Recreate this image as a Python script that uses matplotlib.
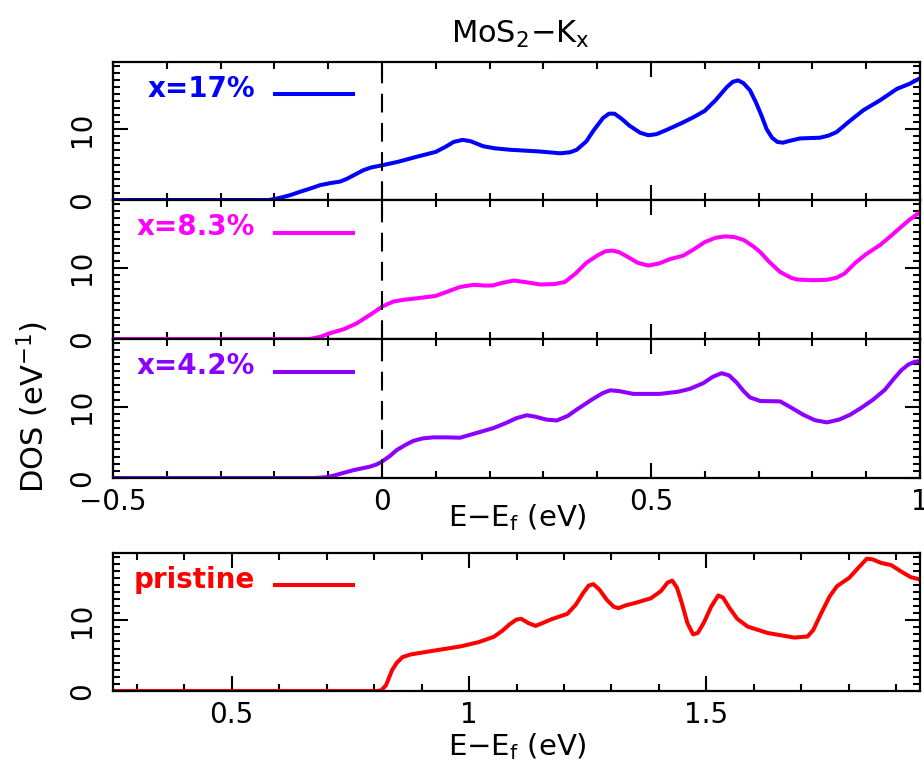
import matplotlib
matplotlib.use("Agg")
import matplotlib.pyplot as plt
from matplotlib.ticker import MultipleLocator

# DOS curves (E - Ef in eV, DOS in 1/eV)
x17 = [-0.5, -0.21, -0.19, -0.17, -0.152, -0.13, -0.115, -0.095, -0.078, -0.065, -0.05, -0.035,
       -0.02, 0.0, 0.03, 0.064, 0.10, 0.12, 0.133, 0.15, 0.165, 0.188, 0.21, 0.238,
       0.294, 0.331, 0.35, 0.362, 0.38, 0.393, 0.411, 0.422, 0.432, 0.445, 0.46, 0.48,
       0.495, 0.51, 0.529, 0.555, 0.579, 0.60, 0.62, 0.641, 0.652, 0.662, 0.672, 0.684,
       0.695, 0.705, 0.715, 0.725, 0.735, 0.745, 0.76, 0.777, 0.814, 0.83, 0.845, 0.87,
       0.895, 0.926, 0.957, 0.98, 1.0]
y17 = [0, 0, 0.3, 0.7, 1.17, 1.7, 2.1, 2.4, 2.6, 3.0, 3.6, 4.2,
       4.6, 4.9, 5.4, 6.1, 6.8, 7.6, 8.2, 8.5, 8.3, 7.6, 7.3, 7.1,
       6.85, 6.6, 6.75, 7.1, 8.3, 9.8, 11.6, 12.2, 12.2, 11.5, 10.5, 9.5,
       9.15, 9.3, 9.9, 10.8, 11.7, 12.6, 14.1, 15.96, 16.7, 16.9, 16.5, 15.5,
       13.8, 12.0, 10.0, 8.8, 8.2, 8.1, 8.4, 8.7, 8.8, 9.1, 9.6, 11.2,
       12.7, 14.1, 15.7, 16.4, 17.2]

x83 = [-0.5, -0.135, -0.115, -0.097, -0.07, -0.047, -0.022, -0.01, 0.0, 0.021, 0.04, 0.064,
       0.10, 0.12, 0.145, 0.17, 0.19, 0.205, 0.225, 0.245, 0.265, 0.294, 0.32, 0.34,
       0.36, 0.38, 0.40, 0.415, 0.428, 0.44, 0.455, 0.475, 0.495, 0.515, 0.535, 0.56,
       0.58, 0.60, 0.62, 0.638, 0.655, 0.672, 0.69, 0.703, 0.72, 0.74, 0.76, 0.771,
       0.80, 0.827, 0.845, 0.86, 0.88, 0.898, 0.926, 0.945, 0.963, 0.98, 1.0]
y83 = [0, 0, 0.3, 0.8, 1.4, 2.2, 3.4, 4.0, 4.55, 5.25, 5.5, 5.7,
       6.05, 6.6, 7.3, 7.6, 7.5, 7.5, 7.9, 8.2, 8.0, 7.65, 7.7, 8.0,
       9.2, 10.7, 11.7, 12.3, 12.4, 12.2, 11.6, 10.7, 10.3, 10.6, 11.2, 11.7,
       12.6, 13.6, 14.2, 14.4, 14.3, 13.9, 13.0, 12.2, 10.8, 9.4, 8.6, 8.35,
       8.25, 8.3, 8.6, 9.2, 10.7, 11.8, 13.2, 14.4, 15.6, 16.7, 17.8]

x42 = [-0.5, -0.125, -0.105, -0.09, -0.07, -0.053, -0.022, -0.01, 0.0, 0.015, 0.027, 0.045,
       0.058, 0.075, 0.095, 0.12, 0.145, 0.175, 0.207, 0.23, 0.25, 0.269, 0.285, 0.305,
       0.325, 0.345, 0.362, 0.39, 0.41, 0.424, 0.44, 0.467, 0.517, 0.55, 0.572, 0.597,
       0.615, 0.631, 0.645, 0.659, 0.672, 0.684, 0.703, 0.740, 0.76, 0.783, 0.805, 0.827,
       0.85, 0.870, 0.89, 0.913, 0.935, 0.950, 0.965, 0.978, 0.99, 1.0]
y42 = [0, 0, 0.1, 0.33, 0.75, 1.1, 1.6, 1.9, 2.3, 3.1, 3.9, 4.7,
       5.2, 5.55, 5.7, 5.7, 5.65, 6.3, 7.0, 7.7, 8.4, 8.8, 8.6, 8.2,
       8.07, 8.7, 9.6, 11.0, 11.9, 12.3, 12.2, 11.8, 11.8, 12.1, 12.5, 13.3,
       14.2, 14.7, 14.4, 13.4, 12.2, 11.3, 10.8, 10.75, 9.9, 8.87, 8.1, 7.8,
       8.2, 8.87, 9.8, 11.0, 12.4, 13.8, 15.1, 15.9, 16.3, 16.4]

x_pr = [0.25, 0.805, 0.815, 0.825, 0.838, 0.848, 0.860, 0.877, 0.926, 0.982, 1.02, 1.052,
        1.07, 1.085, 1.10, 1.11, 1.125, 1.14, 1.155, 1.172, 1.207, 1.225, 1.24, 1.252,
        1.262, 1.275, 1.29, 1.305, 1.315, 1.33, 1.348, 1.383, 1.404, 1.418, 1.428, 1.438,
        1.448, 1.46, 1.472, 1.482, 1.495, 1.51, 1.525, 1.535, 1.548, 1.565, 1.587, 1.629,
        1.685, 1.713, 1.725, 1.742, 1.76, 1.775, 1.801, 1.82, 1.838, 1.85, 1.868, 1.889,
        1.91, 1.93, 1.953]
y_pr = [0, 0, 0.1, 0.8, 2.96, 4.0, 4.8, 5.16, 5.7, 6.3, 6.9, 7.65,
        8.5, 9.4, 10.1, 10.2, 9.6, 9.2, 9.6, 10.1, 10.9, 12.2, 13.8, 14.9,
        15.1, 14.3, 12.9, 11.9, 11.7, 12.1, 12.4, 13.1, 14.1, 15.3, 15.6, 14.6,
        12.5, 9.6, 8.0, 8.2, 9.7, 11.9, 13.5, 13.2, 11.8, 10.2, 9.1, 8.2,
        7.55, 7.7, 8.6, 11.0, 13.4, 14.8, 16.0, 17.4, 18.7, 18.6, 18.1, 17.8,
        16.9, 16.1, 15.7]

labels = ["x=17%", "x=8.3%", "x=4.2%", "pristine"]
colors = ["#0000ff", "#ff00ff", "#8c00ff", "#ff0000"]

plt.rcParams['font.family'] = ['DejaVu Sans']
plt.rcParams['font.size'] = 20
plt.rcParams['mathtext.fontset'] = 'dejavusans'

fig = plt.figure(figsize=(9.24, 7.67), dpi=100)

L, W = 113 / 924, 807 / 924
def px_axes(top, bottom):
    return fig.add_axes([L, 1 - bottom / 767, W, (bottom - top) / 767])

ax1 = px_axes(62, 200)
ax2 = px_axes(200, 339)
ax3 = px_axes(339, 478)
ax4 = px_axes(553, 691)

series = [(ax1, x17, y17), (ax2, x83, y83), (ax3, x42, y42), (ax4, x_pr, y_pr)]

for i, (ax, xs, ys) in enumerate(series):
    ax.plot(xs, ys, color=colors[i], lw=2.9, solid_joinstyle='round')
    ax.set_ylim(0, 19.5)
    ax.set_yticks([0, 10])
    ax.yaxis.set_minor_locator(MultipleLocator(1))
    if ax is ax4:
        ax.set_xlim(0.25, 1.95)
        ax.set_xticks([0.5, 1, 1.5])
        ax.set_xticklabels(["0.5", "1", "1.5"])
    else:
        ax.set_xlim(-0.5, 1.0)
        ax.set_xticks([-0.5, 0, 0.5, 1])
        ax.set_xticklabels(["\u22120.5", "0", "0.5", "1"])
        ax.axvline(0, color='k', lw=1.5, ls=(0, (9, 5)))
    ax.xaxis.set_minor_locator(MultipleLocator(0.1))
    ax.tick_params(which='both', direction='in', top=True, right=True, width=1.5, color='k',
                   labelsize=20)
    ax.tick_params(which='major', length=11)
    ax.tick_params(which='minor', length=5)
    ax.tick_params(axis='x', pad=7)
    ax.tick_params(axis='y', labelrotation=90, pad=12)
    for lab in ax.get_yticklabels():
        lab.set_va('center')
    for s in ax.spines.values():
        s.set_linewidth(1.6)
    if ax in (ax1, ax2):
        ax.tick_params(axis='x', labelbottom=False)

    # legend-like label and sample line
    ax.text(0.176, 0.745, labels[i], color=colors[i], fontweight='bold', fontsize=20,
            ha='right', va='baseline', transform=ax.transAxes)
    ax.plot([0.2007, 0.2974], [0.765, 0.765], color=colors[i], lw=2.9,
            transform=ax.transAxes)

fig.text(520 / 924, 1 - 43 / 767, "MoS$_2$\u2212K$_\\mathrm{x}$", ha='center', va='baseline', fontsize=22)
fig.text(517 / 924, 1 - 526 / 767, "E\u2212E$_\\mathrm{f}$ (eV)", ha='center', va='baseline', fontsize=21)
fig.text(517 / 924, 1 - 755 / 767, "E\u2212E$_\\mathrm{f}$ (eV)", ha='center', va='baseline', fontsize=21)
fig.text(33 / 924, 1 - 407 / 767, "DOS (eV$^{-1}$)", rotation=90, ha='center', va='center', fontsize=22)

fig.savefig("out.png", dpi=100)
